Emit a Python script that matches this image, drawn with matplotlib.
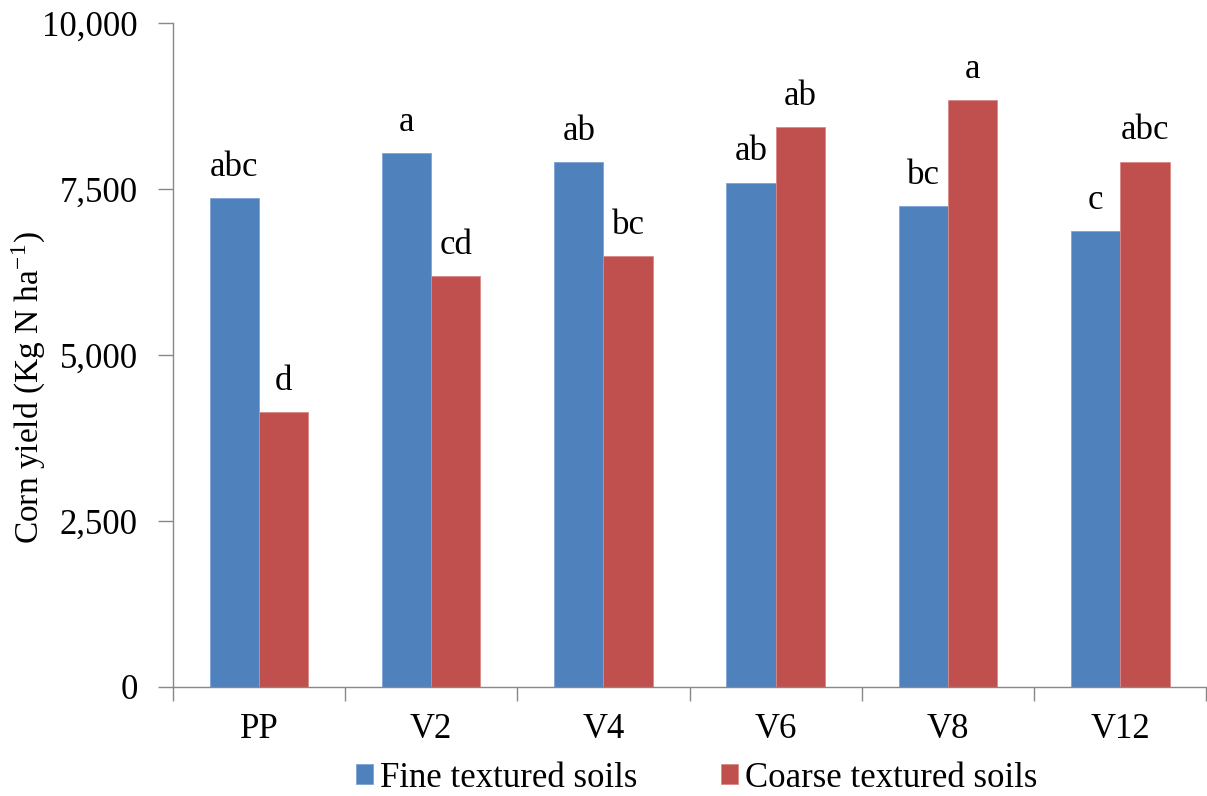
import matplotlib
matplotlib.use("Agg")
import matplotlib.pyplot as plt
import numpy as np
from matplotlib.ticker import FuncFormatter, FixedLocator

plt.rcParams['font.family'] = ['Liberation Serif', 'DejaVu Serif']
plt.rcParams['mathtext.fontset'] = 'stix'

categories = ['PP', 'V2', 'V4', 'V6', 'V8', 'V12']
fine = [7370, 8040, 7910, 7600, 7240, 6865]
coarse = [4135, 6195, 6490, 8440, 8840, 7915]
fine_letters = ['abc', 'a', 'ab', 'ab', 'bc', 'c']
coarse_letters = ['d', 'cd', 'bc', 'ab', 'a', 'abc']
series_names = ['Fine textured soils', 'Coarse textured soils']
yticks = [0, 2500, 5000, 7500, 10000]

blue = '#4F81BD'
red = '#C0504D'
axis_gray = '#888888'
FS = 25

fig = plt.figure(figsize=(12.07, 7.96), dpi=100)
ax = fig.add_axes([172.7/1207, 1-686.7/796, (1206.5-172.7)/1207, (686.7-23.3)/796])

x = np.arange(len(categories))
w = 0.286
b1 = ax.bar(x - w/2, fine, w, color=blue, edgecolor='#7FA3D6', linewidth=0.6, label=series_names[0])
b2 = ax.bar(x + w/2, coarse, w, color=red, edgecolor='#D98A88', linewidth=0.6, label=series_names[1])

for rect, lab in zip(b1, fine_letters):
    ax.annotate(lab, (rect.get_x() + rect.get_width()/2, rect.get_height()),
                xytext=(0, 16), textcoords='offset points', ha='center', va='baseline', fontsize=FS)
for rect, lab in zip(b2, coarse_letters):
    ax.annotate(lab, (rect.get_x() + rect.get_width()/2, rect.get_height()),
                xytext=(0, 16), textcoords='offset points', ha='center', va='baseline', fontsize=FS)

ax.set_xlim(-0.5, len(categories) - 0.5)
ax.set_ylim(0, 10000)
ax.set_yticks(yticks)
ax.yaxis.set_major_formatter(FuncFormatter(lambda v, p: f'{int(v):,}'))
ax.tick_params(axis='y', direction='out', length=11, width=1, color=axis_gray, labelsize=FS, pad=14)

ax.set_xticks(x)
ax.set_xticklabels(categories)
ax.tick_params(axis='x', which='major', length=0, labelsize=FS, pad=19)
ax.xaxis.set_minor_locator(FixedLocator(np.arange(-0.5, len(categories), 1.0)))
ax.tick_params(axis='x', which='minor', direction='out', length=10, width=1, color=axis_gray)

for s in ['top', 'right']:
    ax.spines[s].set_visible(False)
for s in ['left', 'bottom']:
    ax.spines[s].set_color(axis_gray)
    ax.spines[s].set_linewidth(1)

ax.set_ylabel(r'Corn yield (Kg N ha$^{\mathregular{-1}}$)', fontsize=24, va='center')
ax.yaxis.set_label_coords((28 - 172.7) / 1033.8, (686.7 - 388) / 663.4)

fig.legend(handles=[b1, b2], labels=series_names, loc='center', bbox_to_anchor=(0.577, 0.0226),
           ncol=2, frameon=False, fontsize=FS, handlelength=0.5, handleheight=0.5,
           handletextpad=0.2, columnspacing=2.4, borderaxespad=0)

fig.savefig('out.png', dpi=100, facecolor='white')
